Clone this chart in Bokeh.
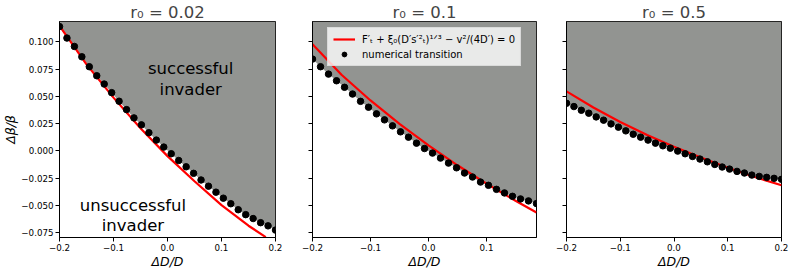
from bokeh.plotting import figure
from bokeh.layouts import row
from bokeh.models import Range1d, FixedTicker, CustomJSTickFormatter, Legend, LegendItem
from bokeh.core.properties import value
from bokeh.embed import file_html
from bokeh.resources import INLINE

# ---------------- data ----------------
titles = ["r\u2080 = 0.02", "r\u2080 = 0.1", "r\u2080 = 0.5"]

# Delta D / D positions of the numerical transition points
dD = [-0.2, -0.1862, -0.1724, -0.1586, -0.1448, -0.131, -0.1172, -0.1034, -0.0897, -0.0759,
      -0.0621, -0.0483, -0.0345, -0.0207, -0.0069, 0.0069, 0.0207, 0.0345, 0.0483, 0.0621,
      0.0759, 0.0897, 0.1034, 0.1172, 0.131, 0.1448, 0.1586, 0.1724, 0.1862, 0.2]

# numerical transition (Delta beta / beta)
num_r002 = [0.114, 0.1035, 0.0958, 0.0863, 0.0772, 0.0689, 0.0613, 0.0534, 0.0455, 0.0378,
            0.0302, 0.0238, 0.0166, 0.0098, 0.0034, -0.0027, -0.0089, -0.0147, -0.0207, -0.0268,
            -0.0325, -0.038, -0.0435, -0.0486, -0.0541, -0.0586, -0.0622, -0.066, -0.0689, -0.0728]
num_r01 = [0.0842, 0.0772, 0.0704, 0.0643, 0.0583, 0.0521, 0.0454, 0.04, 0.0339, 0.0284,
           0.0229, 0.0174, 0.0125, 0.007, 0.0021, -0.0021, -0.0067, -0.0113, -0.0156, -0.0204,
           -0.0241, -0.0287, -0.0317, -0.0354, -0.0387, -0.0418, -0.0442, -0.046, -0.0485]
num_r05 = [0.0436, 0.0406, 0.0372, 0.0345, 0.0311, 0.0281, 0.0247, 0.0217, 0.0183, 0.0152,
           0.0125, 0.0098, 0.007, 0.0046, 0.0024, -0.0003, -0.0027, -0.0052, -0.0076, -0.0101,
           -0.0125, -0.0149, -0.0168, -0.0189, -0.0204, -0.0223, -0.0235, -0.0244, -0.0253, -0.0262]

# analytical condition (red curve)
th_x_r002 = [-0.2, -0.15, -0.1, -0.05, 0.0, 0.05, 0.1, 0.15, 0.182]
th_y_r002 = [0.1147, 0.0793, 0.0488, 0.0207, -0.0049, -0.028, -0.0499, -0.0688, -0.0792]
th_x_r01 = [-0.2, -0.15, -0.1, -0.05, 0.0, 0.05, 0.1, 0.15, 0.1862]
th_y_r01 = [0.0979, 0.0698, 0.0462, 0.0248, 0.005, -0.0133, -0.0302, -0.0458, -0.0566]
th_x_r05 = [-0.2, -0.15, -0.1, -0.05, 0.0, 0.05, 0.1, 0.15, 0.2]
th_y_r05 = [0.0546, 0.0398, 0.0264, 0.0145, 0.0038, -0.0062, -0.0155, -0.024, -0.0317]

x_ticks = [-0.2, -0.1, 0.0, 0.1, 0.2]
y_ticks = [-0.075, -0.05, -0.025, 0.0, 0.025, 0.05, 0.075, 0.1]
y_limits = (-0.0796, 0.1187)
x_limits = [(-0.2, 0.2), (-0.2, 0.1862), (-0.2, 0.2)]

region_labels = ["successful", "invader", "unsuccessful", "invader"]

legend_labels = ["F\u2032\u209c + \u03be\u2080(D\u2032s\u2032\u00b2\u209c)\u00b9\u141f\u00b3 \u2212 v\u00b2/(4D\u2032) = 0",
                 "numerical transition"]

GRAY = "#929491"
FONT = "DejaVu Sans"

x_fmt = CustomJSTickFormatter(code="""
const t = Math.abs(tick) < 1e-9 ? 0 : tick;
return (t < 0 ? "\\u2212" : "") + Math.abs(t).toFixed(1);
""")
y_fmt = CustomJSTickFormatter(code="""
const t = Math.abs(tick) < 1e-9 ? 0 : tick;
return (t < 0 ? "\\u2212" : "") + Math.abs(t).toFixed(3);
""")
blank_fmt = CustomJSTickFormatter(code="return '';")


def make_panel(i, width, left, right, nums, thx, thy, ylabels):
    xs = dD[:len(nums)]
    p = figure(width=width, height=271,
               x_range=Range1d(*x_limits[i]), y_range=Range1d(*y_limits),
               output_backend="svg", toolbar_location=None,
               min_border_left=left, min_border_right=right,
               min_border_top=0, min_border_bottom=0)
    p.title.text = titles[i]
    p.title.align = "center"
    p.title.text_font = FONT
    p.title.text_font_size = "16.5px"
    p.title.text_font_style = "normal"
    p.title.standoff = 0
    p.xgrid.visible = False
    p.ygrid.visible = False
    p.outline_line_color = "black"
    p.outline_line_alpha = 1
    p.outline_line_width = 1
    p.background_fill_color = "white"
    p.border_fill_color = "white"
    for ax in (p.xaxis[0], p.yaxis[0]):
        ax.axis_line_color = "black"
        ax.major_tick_out = 4
        ax.major_tick_in = 0
        ax.minor_tick_out = 0
        ax.minor_tick_in = 0
        ax.major_tick_line_color = "black"
        ax.major_label_text_font = FONT
        ax.major_label_text_font_size = "8.7px"
        ax.major_label_text_color = "black"
        ax.major_label_standoff = 2
        ax.axis_label_standoff = 0
        ax.axis_label_text_font = FONT
        ax.axis_label_text_font_size = "12.5px"
        ax.axis_label_text_font_style = "italic"
        ax.axis_label_text_color = "black"
    p.xaxis[0].major_label_standoff = 2
    p.xaxis[0].ticker = FixedTicker(ticks=x_ticks)
    p.yaxis[0].ticker = FixedTicker(ticks=y_ticks)
    p.xaxis[0].formatter = x_fmt
    p.xaxis[0].axis_label = "\u0394D/D"
    if ylabels:
        p.yaxis[0].formatter = y_fmt
        p.yaxis[0].axis_label = "\u0394\u03b2/\u03b2"
    else:
        p.yaxis[0].formatter = blank_fmt

    p.varea(x=xs, y1=nums, y2=[y_limits[1]] * len(xs), fill_color=GRAY, fill_alpha=1)
    r_line = p.line(thx, thy, line_color="#ff0000", line_width=2.2)
    r_dots = p.scatter(xs, nums, size=6.5, fill_color="black", line_color="black")
    return p, r_line, r_dots


p1, l1, d1 = make_panel(0, 293, 0, 18, num_r002, th_x_r002, th_y_r002, True)
p2, l2, d2 = make_panel(1, 256, 19, 13, num_r01, th_x_r01, th_y_r01, False)
p3, l3, d3 = make_panel(2, 240, 17, 8, num_r05, th_x_r05, th_y_r05, False)

p1.text(x=[0.043, 0.043, -0.064, -0.064], y=[0.0755, 0.0567, -0.0499, -0.0682],
        text=region_labels, text_align="center",
        text_baseline="middle", text_font=value(FONT), text_font_size=value("16.5px"),
        text_color="black")

legend = Legend(items=[LegendItem(label=legend_labels[0], renderers=[l2]),
                       LegendItem(label=legend_labels[1], renderers=[d2])],
                location="top_center", margin=6, padding=5, spacing=3,
                glyph_width=22, glyph_height=12, label_height=12, label_standoff=7,
                label_text_font=FONT, label_text_font_size="10px", label_text_color="black",
                background_fill_color="white", background_fill_alpha=0.8,
                border_line_color="#cccccc", border_line_width=1)
p2.add_layout(legend)

layout = row(p1, p2, p3)
open("out.html", "w").write(file_html(layout, INLINE))
